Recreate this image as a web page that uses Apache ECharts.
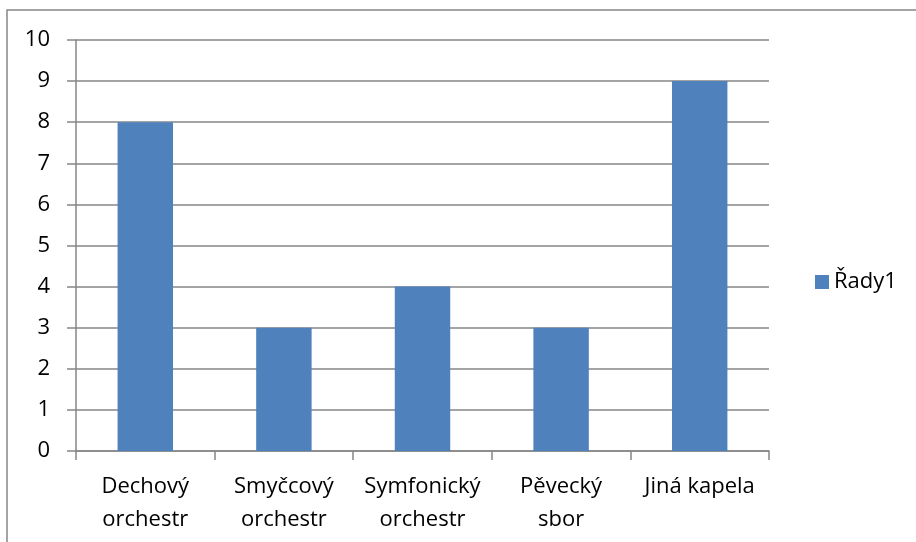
<!DOCTYPE html>
<html><head><meta charset="utf-8">
<script src="https://cdn.jsdelivr.net/npm/echarts@6/dist/echarts.min.js"></script>
<style>html,body{margin:0;padding:0;background:#fff}#c{width:916px;height:542px}</style>
</head><body><div id="c"></div>
<script>
const categories = ['Dechový\norchestr', 'Smyčcový\norchestr', 'Symfonický\norchestr', 'Pěvecký\nsbor', 'Jiná kapela'];
const seriesName = 'Řady1';
const values = [8, 3, 4, 3, 9];
const yMin = 0, yMax = 10, yStep = 1;

const font = 'Open Sans';
const chart = echarts.init(document.getElementById('c'));
chart.setOption({
  animation: false,
  textStyle: { fontFamily: font },
  graphic: [
    { type: 'polyline', shape: { points: [[7, 542], [7, 10], [916, 10]] }, style: { stroke: '#868686', lineWidth: 1.5, fill: null } }
  ],
  legend: {
    left: 810, top: 266, itemWidth: 14, itemHeight: 14, itemGap: 8,
    icon: 'rect',
    textStyle: { fontSize: 22, color: '#000', fontFamily: font },
    data: [seriesName]
  },
  grid: { left: 76, right: 147, top: 40, bottom: 91, containLabel: false },
  xAxis: {
    type: 'category', data: categories,
    axisLine: { lineStyle: { color: '#868686', width: 1.5 } },
    axisTick: { show: true, length: 9, alignWithLabel: false, lineStyle: { color: '#868686', width: 1.5 } },
    axisLabel: { color: '#000', fontSize: 22, lineHeight: 33, margin: 19, interval: 0, fontFamily: font }
  },
  yAxis: {
    type: 'value', min: yMin, max: yMax, interval: yStep,
    axisLine: { show: true, lineStyle: { color: '#868686', width: 1.5 } },
    axisTick: { show: true, length: 9, lineStyle: { color: '#868686', width: 1.5 } },
    splitLine: { show: true, lineStyle: { color: '#868686', width: 1.5 } },
    axisLabel: { color: '#000', fontSize: 22, margin: 26, fontFamily: font }
  },
  series: [{
    name: seriesName, type: 'bar', data: values, barWidth: '40%',
    itemStyle: { color: '#4F81BD' }
  }]
});
</script></body></html>
